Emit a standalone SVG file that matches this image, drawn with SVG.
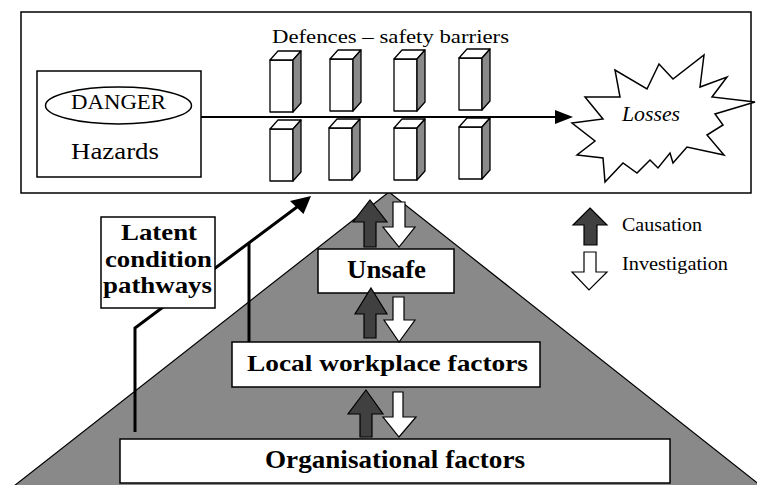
<svg xmlns="http://www.w3.org/2000/svg" xmlns:xlink="http://www.w3.org/1999/xlink" width="757" height="485" viewBox="0 0 757 485">
<style>
.box{fill:#fff;stroke:#000;stroke-width:1.5}
.t{font-family:"Liberation Serif","Times New Roman",serif;fill:#000}
.b{font-weight:bold}
.cause{fill:#404040;stroke:#000;stroke-width:1.2;stroke-linejoin:miter}
.inv{fill:#fff;stroke:#000;stroke-width:1.2;stroke-linejoin:miter}
.path{fill:none;stroke:#000;stroke-width:3}
.bf{fill:#fff;stroke:#000;stroke-width:1.3;stroke-linejoin:round}
.bs{fill:#8a8a8a;stroke:#000;stroke-width:1.3;stroke-linejoin:round}
</style>
<defs>
<g id="barrel">
<rect class="bf" x="0" y="0" width="23" height="52"/>
<polygon class="bf" points="0,0 8,-9 31,-9 23,0"/>
<polygon class="bs" points="23,0 31,-9 31,43 23,52"/>
</g>
</defs>
<rect width="757" height="485" fill="#fff"/>
<g id="pyramid">
<polygon points="389,192 14,486 761,486" fill="#898989" stroke="#000" stroke-width="1.2"/>
</g>
<g id="system">
<rect class="box" x="21" y="12" width="730" height="181"/>
<text class="t" x="272" y="43" font-size="19" textLength="237" lengthAdjust="spacingAndGlyphs">Defences – safety barriers</text>
</g>
<g id="hazards">
<rect class="box" x="37" y="71" width="164" height="106"/>
<ellipse cx="118.5" cy="105.5" rx="73" ry="18.5" fill="#fff" stroke="#000" stroke-width="1.5"/>
<text class="t" x="71" y="109" font-size="21" textLength="95" lengthAdjust="spacingAndGlyphs">DANGER</text>
<text class="t" x="71" y="159" font-size="23" textLength="88" lengthAdjust="spacingAndGlyphs">Hazards</text>
</g>
<g id="barriers">
<use xlink:href="#barrel" href="#barrel" x="270" y="60"/>
<use xlink:href="#barrel" href="#barrel" x="330" y="59"/>
<use xlink:href="#barrel" href="#barrel" x="394" y="59"/>
<use xlink:href="#barrel" href="#barrel" x="459" y="58"/>
<use xlink:href="#barrel" href="#barrel" x="270" y="129"/>
<use xlink:href="#barrel" href="#barrel" x="329" y="128"/>
<use xlink:href="#barrel" href="#barrel" x="394" y="128"/>
<use xlink:href="#barrel" href="#barrel" x="459" y="127"/>
</g>
<g id="losses">
<polygon points="572,123 603,119 585,97 620,97 615,70 647,89 659,64 673,79 704,55 700,87 727,77 712,97 755,102 715,114 723,125 707,135 724,155 687,147 673,163 670,153 658,168 650,160 637,173 623,163 605,182 603,158 577,155 595,141" fill="#fff" stroke="#000" stroke-width="1.5" stroke-linejoin="miter"/>
<text class="t" x="622" y="121" font-size="20" font-style="italic" textLength="58" lengthAdjust="spacingAndGlyphs">Losses</text>
</g>
<g id="connectors">
<line x1="201" y1="117" x2="557" y2="117" stroke="#000" stroke-width="2"/>
<polygon points="555,110 573,117 555,124" fill="#000"/>
<polyline class="path" points="135,432 135,328 297,207"/>
<polygon points="311,196 303.5,214 290,201" fill="#000"/>
<line class="path" x1="249" y1="342" x2="249" y2="243"/>
</g>
<g id="latent">
<rect class="box" x="101" y="217" width="114" height="91"/>
<text class="t b" x="121" y="240" font-size="24" textLength="76" lengthAdjust="spacingAndGlyphs">Latent</text>
<text class="t b" x="105" y="267" font-size="24" textLength="107" lengthAdjust="spacingAndGlyphs">condition</text>
<text class="t b" x="103" y="293" font-size="24" textLength="109" lengthAdjust="spacingAndGlyphs">pathways</text>
</g>
<g id="unsafe">
<rect class="box" x="318" y="249" width="136" height="44"/>
<text class="t b" x="347" y="278" font-size="25" textLength="79" lengthAdjust="spacingAndGlyphs">Unsafe</text>
</g>
<g id="local">
<rect class="box" x="232" y="342" width="308" height="45"/>
<text class="t b" x="247" y="371" font-size="24" textLength="281" lengthAdjust="spacingAndGlyphs">Local workplace factors</text>
</g>
<g id="organisational">
<rect class="box" x="120" y="439" width="550" height="44"/>
<text class="t b" x="265" y="468" font-size="25" textLength="260" lengthAdjust="spacingAndGlyphs">Organisational factors</text>
</g>
<g id="arrows">
<path class="cause" d="M370,200 L387,222 L376,222 L376,247 L364,247 L364,222 L353,222 Z"/>
<path class="inv" d="M393,202 L405,202 L405,227 L415,227 L399,247 L383,227 L393,227 Z"/>
<path class="cause" d="M371,288 L387,314 L376,314 L376,338 L364,338 L364,314 L355,314 Z"/>
<path class="inv" d="M393,297 L404,297 L404,320 L415,320 L399,342 L384,320 L393,320 Z"/>
<path class="cause" d="M366,390 L383,414 L372,414 L372,437 L360,437 L360,414 L348,414 Z"/>
<path class="inv" d="M393,392 L403,392 L403,417 L416,417 L399,437 L383,417 L393,417 Z"/>
</g>
<g id="legend">
<path class="cause" d="M590,208 L607,225 L597,225 L597,245 L584,245 L584,225 L573,225 Z"/>
<text class="t" x="622" y="231" font-size="18" textLength="80" lengthAdjust="spacingAndGlyphs">Causation</text>
<path class="inv" d="M584,252 L596,252 L596,272 L607,272 L589,290 L572,272 L584,272 Z"/>
<text class="t" x="622" y="270" font-size="18" textLength="106" lengthAdjust="spacingAndGlyphs">Investigation</text>
</g>
</svg>
